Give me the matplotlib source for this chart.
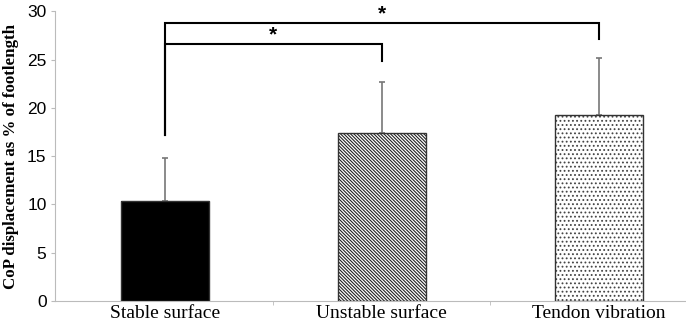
import matplotlib.pyplot as plt

# Data
conditions = ['Stable surface', 'Unstable surface', 'Tendon vibration']
means = [10.4, 17.4, 19.3]
sds = [4.4, 5.3, 5.9]

# significance brackets: (left bar, right bar, bracket height, left leg end, right leg end)
brackets = [(0, 1, 26.6, 17.2, 24.9), (0, 2, 28.8, 17.2, 27.1)]

plt.rcParams['hatch.linewidth'] = 0.8

fig = plt.figure(figsize=(6.86, 3.27), dpi=100)
ax = fig.add_axes([0.080, 0.080, 0.92, 0.885])

x = list(range(len(conditions)))
fills = ['black', 'white', 'white']
hatches = [None, '\\' * 10, '.' * 4]
hatch_cols = ['black', '#222222', '#444444']
for i in x:
    ax.bar(i, means[i], width=0.405, color=fills[i], edgecolor=hatch_cols[i],
           hatch=hatches[i], linewidth=0, zorder=2)
    ax.bar(i, means[i], width=0.405, color='none', edgecolor='#333333',
           linewidth=1.0, zorder=3)
    # upper error bar only
    ax.errorbar(i, means[i], yerr=[[0], [sds[i]]], fmt='none', ecolor='#777777',
                elinewidth=1.2, capsize=2.5, capthick=1.2, zorder=1)

# significance brackets
for a, b, h, la, lb in brackets:
    ax.plot([a, a, b, b], [la, h, h, lb], color='black', lw=1.5,
            solid_joinstyle='miter', zorder=4)
    ax.text((a + b) / 2, h + 0.95, '*', ha='center', va='center',
            fontsize=15, fontweight='bold', family='Liberation Sans')

ax.set_xlim(-0.505, 2.40)
ax.set_ylim(0, 30)
ax.set_yticks(range(0, 31, 5))
ax.set_xticks(x)
ax.set_xticklabels(conditions, family='Liberation Serif', fontsize=14)
ax.set_xticks([0.5, 1.5, 2.4], minor=True)
ax.tick_params(axis='x', which='major', length=0, pad=3)
ax.tick_params(axis='x', which='minor', length=3, color='#bbbbbb')
ax.tick_params(axis='y', length=3, color='#bbbbbb', labelsize=12.5, pad=3)
for lab in ax.get_yticklabels():
    lab.set_family('Liberation Sans')

ax.spines['top'].set_visible(False)
ax.spines['right'].set_visible(False)
ax.spines['left'].set_color('#bbbbbb')
ax.spines['bottom'].set_color('#bbbbbb')

ax.set_ylabel('CoP displacement as % of footlength', family='Liberation Serif',
              fontweight='bold', fontsize=12.2, labelpad=6)

fig.savefig('out.png', dpi=100)
